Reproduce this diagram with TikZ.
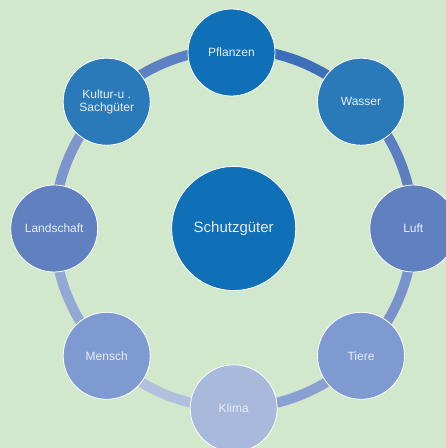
\documentclass[tikz,border=0pt]{standalone}
\usepackage{fontspec}
\setmainfont{Liberation Sans}
\definecolor{bg}{RGB}{210,232,204}
\definecolor{cA}{RGB}{15,111,183}
\definecolor{cB}{RGB}{42,121,185}
\definecolor{cC}{RGB}{96,128,192}
\definecolor{cD}{RGB}{126,154,208}
\definecolor{cE}{RGB}{168,185,219}
\definecolor{sPW}{RGB}{60,110,185}
\definecolor{sWL}{RGB}{91,125,193}
\definecolor{sLT}{RGB}{120,146,204}
\definecolor{sTK}{RGB}{139,160,210}
\definecolor{sKM}{RGB}{177,192,223}
\definecolor{sMLa}{RGB}{147,168,213}
\definecolor{sLaKu}{RGB}{124,149,205}
\definecolor{sKuP}{RGB}{92,128,196}
\definecolor{txt}{RGB}{232,238,246}
\tikzset{
  outer/.style={circle, draw=white, line width=0.8pt, minimum size=87pt, inner sep=0pt,
    text=txt, font=\fontsize{12}{12.5}\selectfont, align=center},
  hub/.style={circle, draw=white, line width=0.8pt, minimum size=124pt, inner sep=0pt,
    text=txt, font=\fontsize{15}{17}\selectfont, fill=cA},
  ring/.style={line width=10pt}
}
\begin{document}
\begin{tikzpicture}[x=1pt,y=-1pt]
\fill[bg] (0,0) rectangle (446,448);
\useasboundingbox (0,0) rectangle (446,448);
\coordinate (C) at (233.7,228.5);
% ring segments
\draw[ring, sPW]   (C) ++(-90:179.5) arc[start angle=-90, end angle=-45, radius=179.5];
\draw[ring, sWL]   (C) ++(-45:179.5) arc[start angle=-45, end angle=0, radius=179.5];
\draw[ring, sLT]   (C) ++(0:179.5)   arc[start angle=0, end angle=45, radius=179.5];
\draw[ring, sTK]   (C) ++(45:179.5)  arc[start angle=45, end angle=90, radius=179.5];
\draw[ring, sKM]   (C) ++(90:179.5)  arc[start angle=90, end angle=135, radius=179.5];
\draw[ring, sMLa]  (C) ++(135:179.5) arc[start angle=135, end angle=180, radius=179.5];
\draw[ring, sLaKu] (C) ++(180:179.5) arc[start angle=180, end angle=225, radius=179.5];
\draw[ring, sKuP]  (C) ++(225:179.5) arc[start angle=225, end angle=270, radius=179.5];
% nodes
\node[hub] (hub) at (C) {Schutzgüter};
\node[outer, fill=cA] (pfl) at (231.5,52.5) {Pflanzen};
\node[outer, fill=cB] (was) at (361,101.7) {Wasser};
\node[outer, fill=cC] (luf) at (413.3,228.5) {Luft};
\node[outer, fill=cD] (tie) at (361,355.8) {Tiere};
\node[outer, fill=cE] (kli) at (233.7,408.3) {Klima};
\node[outer, fill=cD] (men) at (106.7,355.8) {Mensch};
\node[outer, fill=cC] (lan) at (54.2,228.5) {Landschaft};
\node[outer, fill=cB] (kul) at (106.7,101.7) {Kultur-u .\\Sachgüter};
\end{tikzpicture}
\end{document}
